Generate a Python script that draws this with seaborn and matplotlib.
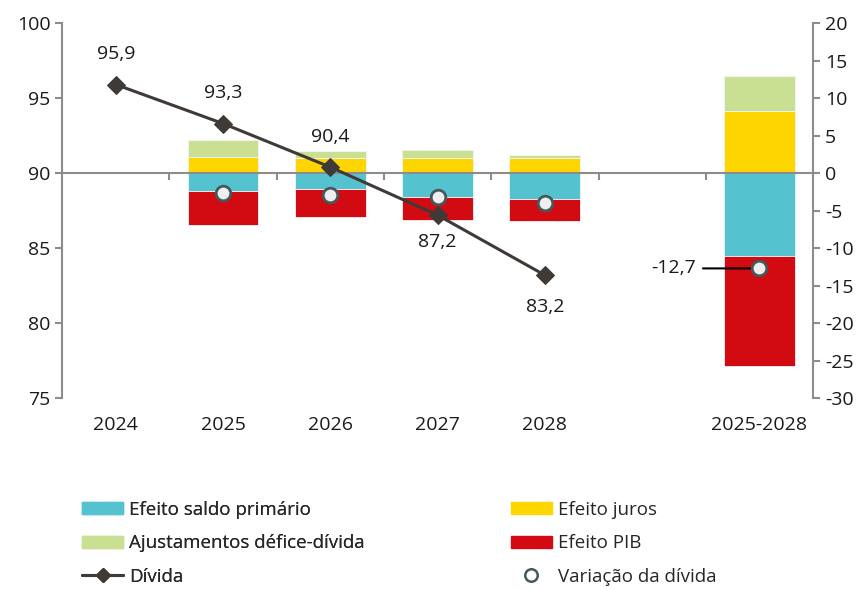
import numpy as np
import pandas as pd
import seaborn as sns
import matplotlib.pyplot as plt
from matplotlib.patches import Patch
from matplotlib.lines import Line2D

# dados
anos = ['2024', '2025', '2026', '2027', '2028', '', '2025-2028']
divida = [95.9, 93.3, 90.4, 87.2, 83.2]
divida_lbl = ['95,9', '93,3', '90,4', '87,2', '83,2']
saldo_primario = [-2.4, -2.1, -3.2, -3.4, -11.1]
efeito_pib = [-4.5, -3.8, -3.1, -3.0, -14.6]
efeito_juros = [2.1, 2.0, 2.0, 2.0, 8.3]
ajustamentos = [2.3, 1.0, 1.1, 0.4, 4.7]
variacao = [-2.6, -2.9, -3.2, -4.0, -12.7]

c_cyan = '#55C3CF'
c_yel = '#FFD500'
c_grn = '#C9E093'
c_red = '#D20A11'
c_line = '#403A37'
c_axis = '#8C8C8C'
c_txt = '#1A1A1A'

sns.set_style('white')
plt.rcParams['font.family'] = ['Open Sans', 'DejaVu Sans']
plt.rcParams['axes.unicode_minus'] = False

pos = np.arange(len(anos))
pos_bar = [1, 2, 3, 4, 6]
pos_div = [0, 1, 2, 3, 4]

fig, ax = plt.subplots(figsize=(8.64, 5.9), dpi=100)
fig.subplots_adjust(left=0.072, right=0.941, top=0.961, bottom=0.325)
ax2 = ax.twinx()

# barras empilhadas (eixo da direita)
w = 0.66
bkw = dict(width=w, zorder=2, edgecolor='#F4F4F4', linewidth=0.6)
ax2.bar(pos_bar, saldo_primario, color=c_cyan, **bkw)
ax2.bar(pos_bar, efeito_pib, bottom=saldo_primario, color=c_red, **bkw)
ax2.bar(pos_bar, efeito_juros, color=c_yel, **bkw)
ax2.bar(pos_bar, ajustamentos, bottom=efeito_juros, color=c_grn, **bkw)

df_var = pd.DataFrame({'x': pos_bar, 'v': variacao})
sns.scatterplot(data=df_var, x='x', y='v', ax=ax2, s=110, color='#EFEFEF',
                edgecolor='#44595C', linewidth=2, zorder=5, legend=False)
ax2.annotate('-12,7', xy=(6, -12.7), xytext=(-46, 0), textcoords='offset points',
             ha='right', va='center', fontsize=14, color=c_txt,
             arrowprops=dict(arrowstyle='-', color='black', lw=1.5,
                             shrinkA=3, shrinkB=0), zorder=3)

# linha da divida (eixo da esquerda, por cima)
ax.set_zorder(ax2.get_zorder() + 1)
ax.patch.set_visible(False)
df_div = pd.DataFrame({'x': pos_div, 'd': divida})
sns.lineplot(data=df_div, x='x', y='d', ax=ax, color=c_line, lw=2.2,
             marker='D', markersize=9, markeredgecolor=c_line, zorder=4)
offs = [22, 22, 22, -19, -23]
for x, y, t, o in zip(pos_div, divida, divida_lbl, offs):
    ax.annotate(t, xy=(x, y), xytext=(0, o), textcoords='offset points',
                ha='center', va='center', fontsize=14, color=c_txt)

ax.set_xlim(-0.5, 6.5)
ax.set_ylim(75, 100)
ax2.set_ylim(-30, 20)
ax.set_yticks(range(75, 101, 5))
ax2.set_yticks(range(-30, 21, 5))
ax.set_xticks(pos)
ax.set_xticklabels(anos)
ax.set_xlabel('')
ax.set_ylabel('')
ax2.set_ylabel('')

for a in (ax, ax2):
    for s in ('top', 'bottom'):
        a.spines[s].set_visible(False)
ax2.spines['left'].set_visible(False)
ax.spines['right'].set_visible(False)
ax.spines['left'].set_color(c_axis)
ax.spines['left'].set_linewidth(1.5)
ax2.spines['right'].set_color(c_axis)
ax2.spines['right'].set_linewidth(1.5)

ax.tick_params(axis='x', length=0, pad=13, labelsize=14, colors=c_txt)
ax.tick_params(axis='y', direction='out', length=5, width=1.5, color=c_axis,
               labelsize=14, labelcolor=c_txt, left=True)
ax2.tick_params(axis='y', direction='out', length=5, width=1.5, color=c_axis,
                labelsize=14, labelcolor=c_txt, right=True)

# eixo horizontal em 90 / 0
sec = ax.secondary_xaxis(0.6)
sec.set_xticks([0.5, 1.5, 2.5, 3.5, 4.5, 5.5])
sec.set_xticklabels([])
for s in sec.spines.values():
    s.set_color(c_axis)
    s.set_linewidth(1.5)
sec.tick_params(axis='x', direction='out', length=5, width=1.5, color=c_axis,
                bottom=True, top=False)

# legenda
h1 = [Patch(color=c_cyan), Patch(color=c_grn),
      Line2D([], [], color=c_line, lw=2.2, marker='D', markersize=7)]
l1 = ['Efeito saldo primário', 'Ajustamentos défice-dívida', 'Dívida']
h2 = [Patch(color=c_yel), Patch(color=c_red),
      Line2D([], [], ls='none', marker='o', markersize=9, markerfacecolor='white',
             markeredgecolor='#44595C', markeredgewidth=1.8)]
l2 = ['Efeito juros', 'Efeito PIB', 'Variação da dívida']
kw = dict(frameon=False, fontsize=13.5, handlelength=2.2, handleheight=0.6,
          handletextpad=0.32, labelspacing=0.82, loc='upper left',
          borderpad=0, borderaxespad=0)
leg1 = fig.legend(h1, l1, bbox_to_anchor=(0.095, 0.151), **kw)
fig.legend(h2, l2, bbox_to_anchor=(0.591, 0.151), **kw)
fig.add_artist(leg1)

plt.savefig('out.png', dpi=100)
